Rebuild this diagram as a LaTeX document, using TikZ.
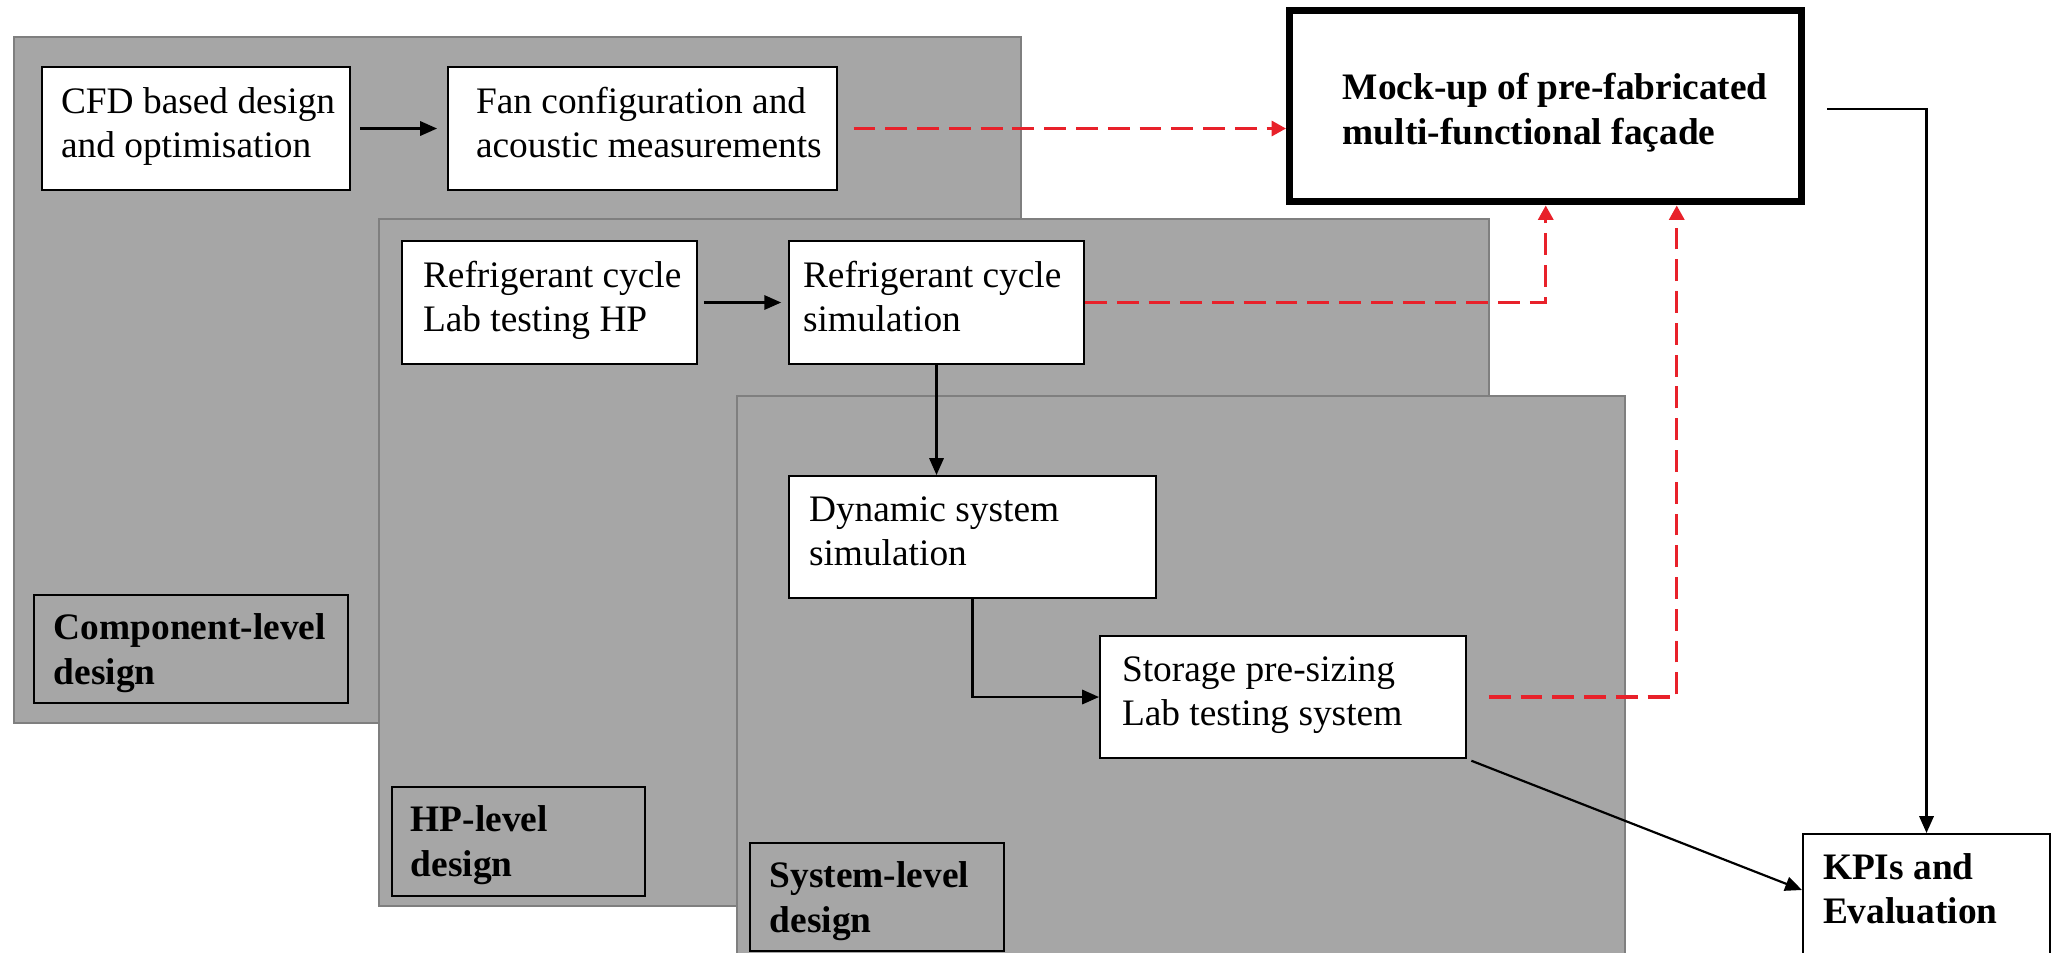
\documentclass[tikz,border=0pt]{standalone}
\usepackage{fontspec}
\setmainfont{Liberation Serif}
\usetikzlibrary{arrows.meta,calc}

\definecolor{panelgray}{HTML}{A6A6A6}
\definecolor{paneledge}{HTML}{7F7F7F}
\definecolor{linkred}{HTML}{E8212A}

% one drawing unit
\newdimen\pxd \pxd=0.321pt
% box content: width, height, left padding, first baseline, text
\newcommand{\boxtext}[5]{%
  \parbox[c][#2\pxd][t]{#1\pxd}{\raggedright\leftskip=#3\pxd
    \rule{0pt}{#4\pxd}#5\par}}

\begin{document}
\begin{tikzpicture}[x=0.321pt, y=-0.321pt,
  font=\fontsize{12pt}{14.4pt}\selectfont,
  panel/.style={fill=panelgray, draw=paneledge, line width=0.7pt},
  wbox/.style={draw=black, fill=white, line width=0.65pt, inner sep=0pt, anchor=north west},
  lbox/.style={draw=black, line width=0.5pt, inner sep=0pt, anchor=north west,
    font=\fontsize{12pt}{14.4pt}\selectfont\bfseries},
  mbox/.style={draw=black, fill=white, line width=2.4pt, inner sep=0pt, anchor=north west,
    font=\fontsize{12pt}{14.4pt}\selectfont\bfseries},
  blk/.style={draw=black, line width=0.7pt, -{Triangle[length=5.4pt,width=4.6pt]}},
  redlink/.style={draw=linkred, line width=1pt, dash pattern=on 7pt off 3.2pt,
    -{Triangle[length=4.6pt,width=4.8pt]}}]

\useasboundingbox (0,0) rectangle (2057,953);
\clip (0,0) rectangle (2057,953);

% component level
\draw[panel] (14,37) rectangle (1021,723);
\node[wbox] (cfd) at (41,66) {\boxtext{308}{123}{19}{46}{CFD based design\\and optimisation}};
\node[wbox] (fan) at (447,66) {\boxtext{389}{123}{28}{46}{Fan configuration and\\acoustic measurements}};
\node[lbox] (complabel) at (33,594) {\boxtext{314}{108}{20}{45}{Component-level\\design}};

% heat pump level
\draw[panel] (379,219) rectangle (1489,906);
\node[wbox] (reflab) at (401,240) {\boxtext{295}{123}{21}{46}{Refrigerant cycle\\Lab testing HP}};
\node[wbox] (refsim) at (788,240) {\boxtext{295}{123}{14}{46}{Refrigerant cycle\\simulation}};
\node[lbox] (hplabel) at (391,786) {\boxtext{253}{109}{19}{45}{HP-level\\design}};

% system level
\draw[panel] (737,396) rectangle (1625,990);
\node[wbox] (dyn) at (788,475) {\boxtext{367}{122}{20}{45}{Dynamic system\\simulation}};
\node[wbox] (stor) at (1099,635) {\boxtext{366}{122}{22}{45}{Storage pre-sizing\\Lab testing system}};
\node[lbox] (syslabel) at (749,842) {\boxtext{254}{108}{20}{45}{System-level\\design}};

% outcomes
\node[mbox] (mock) at (1286,7) {\boxtext{512}{191}{53}{89}{Mock-up of pre-fabricated\\multi-functional façade}};
\node[wbox, font=\fontsize{12pt}{14.4pt}\selectfont\bfseries] (kpi) at (1802,833)
  {\boxtext{247}{160}{20}{45}{KPIs and\\Evaluation}};

% black flow
\draw[blk, shorten <=2.9pt, shorten >=3.2pt] (cfd.east) -- (fan.west);
\draw[blk, shorten <=1.9pt, shorten >=2.2pt] (reflab.east) -- (refsim.west);
\draw[blk] (refsim.south) -- (refsim.south |- dyn.north);
\draw[blk] (dyn.south) |- (stor.west);
\coordinate (kpiin) at ($(kpi.north west)+(0,57)$);
\draw[blk, shorten <=1.5pt] (stor.south east) -- (kpiin);
\coordinate (mockout) at ($(mock.east)+(0,3)$);
\draw[blk, shorten <=7pt] (mockout) -| (kpi.north);

% red dashed links to the mock-up
\draw[redlink, shorten <=5pt] (fan.east) -- (fan.east -| mock.west);
\draw[redlink] (refsim.east) -| (mock.south);
\coordinate (mocktap) at ($(mock.south)+(131,0)$);
\draw[redlink, shorten <=7pt] (stor.east) -| (mocktap);
\end{tikzpicture}
\end{document}
